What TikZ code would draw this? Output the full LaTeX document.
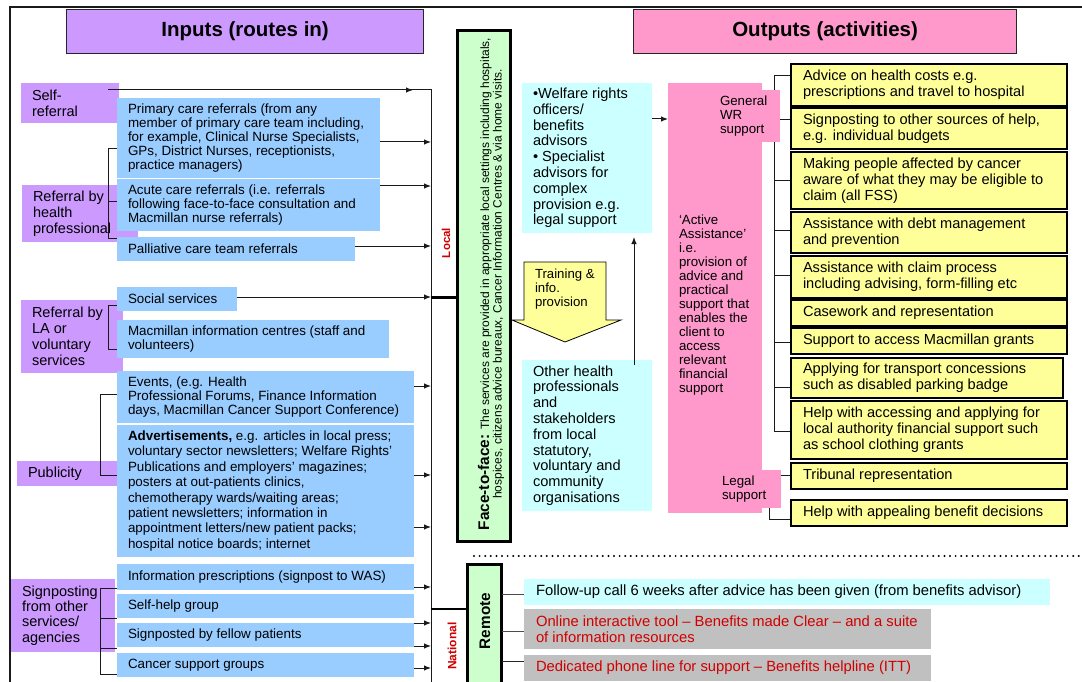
\documentclass[tikz,border=0pt]{standalone}
\usepackage{fontspec}
\setmainfont{Liberation Sans}
\usetikzlibrary{arrows.meta,calc}
\definecolor{lav}{HTML}{CC99FF}
\definecolor{pnk}{HTML}{FF99CC}
\definecolor{blu}{HTML}{99CCFF}
\definecolor{cyn}{HTML}{CCFFFF}
\definecolor{grn}{HTML}{CCFFCC}
\definecolor{ylw}{HTML}{FFFF99}
\definecolor{gry}{HTML}{C0C0C0}
\definecolor{redt}{HTML}{D00000}
\definecolor{linec}{HTML}{1A1A1A}
\newcommand{\myfs}[2]{\fontsize{#1}{#2}\selectfont}
\newcommand{\bx}[8][]{%
  \node[bxs,#1,minimum width={#5pt-#3pt},minimum height={#6pt-#4pt}] (#2) at (#3,#4) {};
  \node[txt,anchor=west] (#2-t) at ($(#2.west)+(#7,0)$) {#8};}
\tikzset{
  bxs/.style={anchor=north west, inner sep=0pt, outer sep=0pt},
  txt/.style={inner sep=0pt, outer sep=0pt, align=left, txtx},
  txtx/.style={font=\myfs{13.4}{13.9}},
  arr/.style={-{Latex[length=7pt,width=5.5pt]}, line width=1pt, draw=linec},
  ln/.style={line width=1pt, draw=linec},
  hdr/.style={anchor=north west, draw=black!85, line width=1.2pt, font=\bfseries\myfs{20.5}{22}},
  ybox/.style={fill=ylw, draw=black, line width=1.2pt},
  thickbox/.style={draw=black, line width=3.5pt, fill=grn},
}
\begin{document}
\begin{tikzpicture}[x=1pt,y=-1pt]
\useasboundingbox (0,0) rectangle (1082,682);
% frame
\draw[line width=2pt, draw=linec] (10,682) -- (10,7) -- (1082,7);
% headers
\node[hdr, fill=lav, minimum width=357pt, minimum height=44pt] (inh) at (66,9) {Inputs (routes in)};
\node[hdr, fill=pnk, minimum width=383pt, minimum height=44pt] (outh) at (633,9) {Outputs (activities)};

% ---------- left purple labels
\tikzset{txtx/.style={font=\myfs{14.5}{16}}}
\bx[fill=lav]{sr}{21}{83}{119}{123}{11}{Self-\\referral}
\bx[fill=lav]{hp}{22}{185}{138}{242}{11}{Referral by\\health\\professional}
\bx[fill=lav]{la}{21}{300}{123}{373}{11}{Referral by\\LA or\\voluntary\\services}
\bx[fill=lav]{pub}{17}{461}{117}{486}{11}{Publicity}
\tikzset{txtx/.style={font=\myfs{14.5}{15.4}}}
\bx[fill=lav]{sig}{11}{579}{115}{652}{11}{Signposting\\from other\\services/\\agencies}

% brackets
\draw[ln] (117,149) -- (108,149) -- (108,238) -- (117,238);
\draw[ln] (108,201) -- (117,201);
\draw[ln] (117,305) -- (108,305) -- (108,349) -- (117,349);
\draw[ln] (117,394) -- (100,394) -- (100,475) -- (117,475);
\draw[ln] (117,588) -- (100,588) -- (100,674) -- (117,674);
\draw[ln] (100,618) -- (117,618);
\draw[ln] (100,648) -- (117,648);

% bus
\coordinate (bustop) at (431,90);
\coordinate (busbot) at (431,682);
\draw[ln] (108,90) -- (bustop) -- (busbot);
\draw[arr] (108,90) -- (413,90);

% ---------- left blue boxes
\tikzset{txtx/.style={font=\myfs{13.4}{13.9}}}
\bx[fill=blu]{pc}{117}{98}{380}{178}{11}{Primary care referrals (from any\\member of primary care team including,\\for example, Clinical Nurse Specialists,\\GPs, District Nurses, receptionists,\\practice managers)}
\bx[fill=blu]{ac}{117}{179}{380}{231}{11}{Acute care referrals (i.e. referrals\\following face-to-face consultation and\\Macmillan nurse referrals)}
\bx[fill=blu]{pal}{117}{237}{355}{261}{11}{Palliative care team referrals}
\bx[fill=blu]{ss}{117}{287}{237}{311}{11}{Social services}
\bx[fill=blu]{mic}{117}{320}{389}{358}{11}{Macmillan information centres (staff and\\volunteers)}
\bx[fill=blu]{ev}{117}{371}{414}{423}{11}{Events, (e.g. Health\\Professional Forums, Finance Information\\days, Macmillan Cancer Support Conference)}
\tikzset{txtx/.style={font=\myfs{13.4}{15.4}}}
\bx[fill=blu]{ad}{117}{425}{414}{557}{11}{\textbf{Advertisements,} e.g. articles in local press;\\voluntary sector newsletters; Welfare Rights'\\Publications and employers' magazines;\\posters at out-patients clinics,\\chemotherapy wards/waiting areas;\\patient newsletters; information in\\appointment letters/new patient packs;\\hospital notice boards; internet}
\tikzset{txtx/.style={font=\myfs{13.4}{13.9}}}
\bx[fill=blu]{ip}{117}{564}{414}{590}{11}{Information prescriptions (signpost to WAS)}
\bx[fill=blu]{sh}{117}{594}{414}{618}{11}{Self-help group}
\bx[fill=blu]{sfp}{117}{623}{414}{647}{11}{Signposted by fellow patients}
\bx[fill=blu]{csg}{117}{653}{414}{677}{11}{Cancer support groups}

% arrows to bus
\draw[arr] ([yshift=-4pt]pc.east) -- (431,142);
\draw[arr] ([yshift=19pt]ac.east) -- (431,186);
\draw[arr] ([yshift=3pt]pal.east) -- (431,246);
\draw[arr] ([yshift=2pt]ss.east) -- (431,297);
\draw[arr] ([yshift=11pt]ev.east) -- (431,386);
\draw[arr] ([yshift=16pt]ad.east) -- (431,475);
\draw[arr] ([yshift=-36pt]ad.east) -- (431,527);
\draw[arr] ([yshift=-10pt]ip.east) -- (431,587);
\draw[arr] ([yshift=-17pt]sh.east) -- (431,623);
\draw[arr] ([yshift=-11pt]sfp.east) -- (431,646);
\draw[arr] ([yshift=-3pt]csg.east) -- (431,668);

\node[rotate=90, font=\bfseries\myfs{11.5}{13}, text=redt, inner sep=0pt] (loc) at (446,243) {Local};
\node[rotate=90, font=\bfseries\myfs{12}{13}, text=redt, inner sep=0pt] (nat) at (452,646) {National};

% ---------- face-to-face box
\node[bxs, thickbox, minimum width=53pt, minimum height=511pt] (ftf) at (457.5,30.5) {};
\node[rotate=90, align=center, inner sep=0pt, font=\myfs{12}{12.5}] (ftft) at (491,284)
  {\textbf{\myfs{15.4}{12.5}Face-to-face:} The services are provided in appropriate local settings including hospitals,\\hospices, citizens advice bureaux, Cancer Information Centres \& via home visits.};
\draw[line width=3pt, draw=black] (431,297) -- (ftf.west |- 0,297);

% remote box
\node[bxs, thickbox, minimum width=34pt, minimum height=130pt] (rem) at (467.5,564.5) {};
\node[rotate=90, inner sep=0pt, font=\bfseries\myfs{15.3}{16}] (remt) at (485,621) {Remote};
\draw[line width=2.5pt, draw=black] (431,609) -- (rem.west |- 0,609);

% dotted separator
\draw[line width=2.2pt, dash pattern=on 0pt off 5.6pt, line cap=round] (474,556) -- (1082,556);

% ---------- middle cyan boxes
\tikzset{txtx/.style={font=\myfs{14.6}{15.8}}}
\bx[fill=cyn]{wr}{522}{83}{652}{233}{11}{•Welfare rights\\officers/\\benefits\\advisors\\• Specialist\\advisors for\\complex\\provision e.g.\\legal support}
\bx[fill=cyn]{oth}{522}{360}{652}{511}{11}{Other health\\professionals\\and\\stakeholders\\from local\\statutory,\\voluntary and\\community\\organisations}

% training arrow
\filldraw[fill=ylw, draw=black, line width=0.8pt] (524,262) -- (606,262) -- (606,320) -- (621,320) -- (565,342) -- (512,320) -- (524,320) -- cycle;
\node[txt, anchor=west, font=\myfs{13.2}{14}] (trn) at (535,289) {Training \&\\info.\\provision};

\draw[arr] ([xshift=47pt,yshift=-5pt]oth.north) -- ([xshift=47pt,yshift=-4pt]wr.south);

% ---------- pink column
\node[bxs, fill=pnk, minimum width=94pt, minimum height=430pt] (aa) at (668,83) {};
\node[txt, anchor=west, font=\myfs{13.3}{14}] (aat) at (679,305) {`Active\\Assistance'\\i.e.\\provision of\\advice and\\practical\\support that\\enables the\\client to\\access\\relevant\\financial\\support};
\draw[arr] ([yshift=39pt]wr.east) -- ([yshift=179pt]aa.west);

% right brackets
\draw[ln] (791,76) -- (774,76) -- (774,431) -- (791,431);
\foreach \yy in {120,181,230,275,342,387} \draw[ln] (774,\yy) -- (791,\yy);
\draw[ln] (791,475) -- (769,475) -- (769,519) -- (791,519);

\tikzset{txtx/.style={font=\myfs{13.3}{14}}}
\bx[fill=pnk]{gwr}{712}{90}{780}{142}{8}{General\\WR\\support}
\bx[fill=pnk]{lg}{712}{470}{781}{508}{10}{Legal\\support}

% ---------- yellow boxes
\tikzset{txtx/.style={font=\myfs{14.6}{15.8}}}
\bx[ybox]{y1}{791}{64}{1067}{106}{12}{Advice on health costs e.g.\\prescriptions and travel to hospital}
\bx[ybox]{y2}{791}{108}{1067}{149}{12}{Signposting to other sources of help,\\e.g. individual budgets}
\bx[ybox]{y3}{791}{152}{1067}{209}{12}{Making people affected by cancer\\aware of what they may be eligible to\\claim (all FSS)}
\bx[ybox]{y4}{791}{212}{1067}{253}{12}{Assistance with debt management\\and prevention}
\bx[ybox]{y5}{791}{256}{1067}{298}{12}{Assistance with claim process\\including advising, form-filling etc}
\bx[ybox]{y6}{791}{300}{1067}{326}{12}{Casework and representation}
\bx[ybox]{y7}{791}{328}{1067}{354}{12}{Support to access Macmillan grants}
\bx[ybox]{y8}{791}{358}{1063}{398}{12}{Applying for transport concessions\\such as disabled parking badge}
\bx[ybox]{y9}{791}{401}{1067}{459}{12}{Help with accessing and applying for\\local authority financial support such\\as school clothing grants}
\bx[ybox]{y10}{791}{463}{1067}{489}{12}{Tribunal representation}
\bx[ybox]{y11}{791}{500}{1067}{526}{12}{Help with appealing benefit decisions}

% ---------- remote items
\tikzset{txtx/.style={font=\myfs{14.8}{16}}}
\bx[fill=cyn]{fu}{524}{579}{1050}{605}{12}{Follow-up call 6 weeks after advice has been given (from benefits advisor)}
\tikzset{txtx/.style={font=\myfs{14.8}{16}, text=redt}}
\bx[fill=gry]{ol}{524}{609}{931}{649}{12}{Online interactive tool – Benefits made Clear – and a suite\\of information resources}
\bx[fill=gry]{ph}{524}{655}{931}{681}{12}{Dedicated phone line for support – Benefits helpline (ITT)}
\draw[line width=1pt, draw=black!70] (rem.east |- 0,594) -- (fu.west |- 0,594);
\draw[line width=1pt, draw=black!70] (rem.east |- 0,631) -- (ol.west |- 0,631);
\draw[line width=1pt, draw=black!85] (rem.east |- 0,661) -- (ph.west |- 0,661);
\end{tikzpicture}
\end{document}
